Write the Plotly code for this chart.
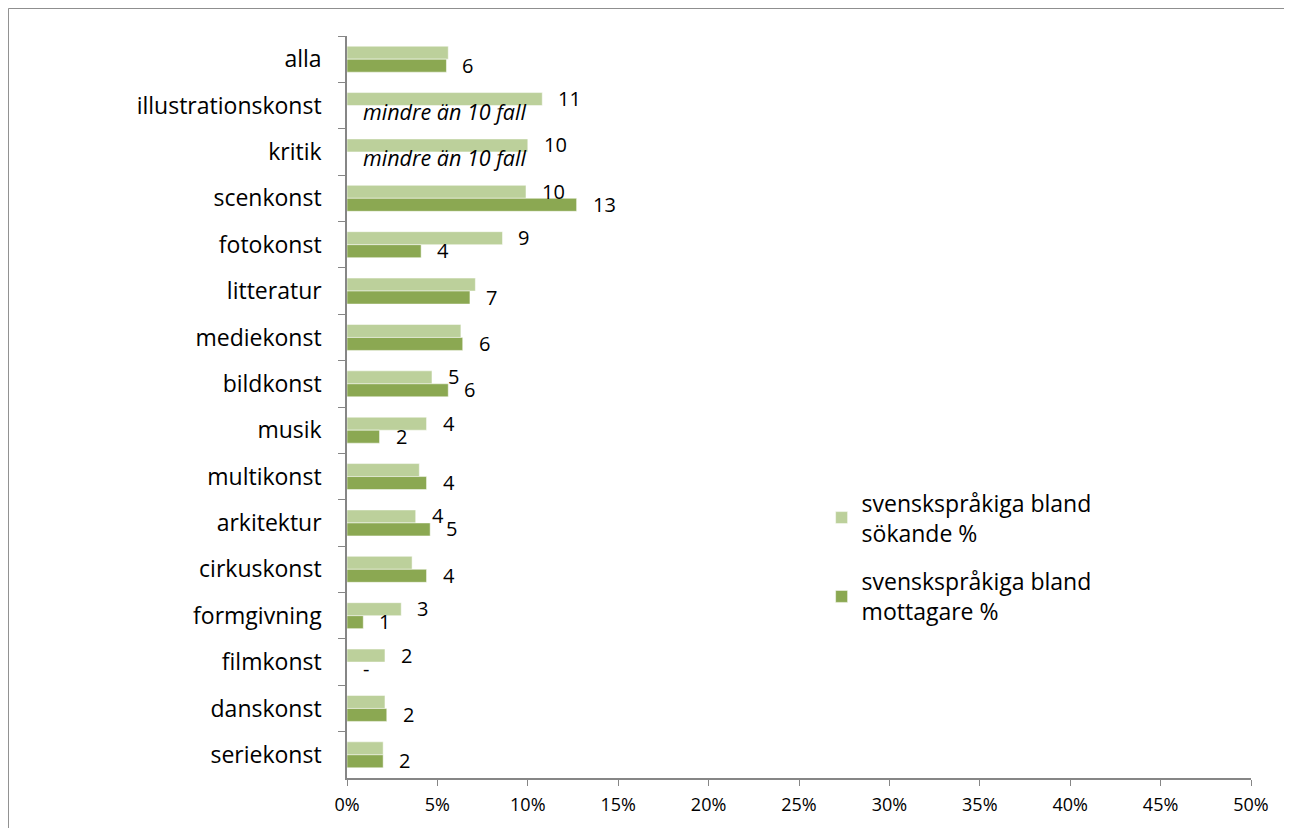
import plotly.graph_objects as go

categories = ["alla", "illustrationskonst", "kritik", "scenkonst", "fotokonst", "litteratur",
              "mediekonst", "bildkonst", "musik", "multikonst", "arkitektur", "cirkuskonst",
              "formgivning", "filmkonst", "danskonst", "seriekonst"]
sokande = [5.6, 10.8, 10.0, 9.9, 8.6, 7.1, 6.3, 4.7, 4.4, 4.0, 3.8, 3.6, 3.0, 2.1, 2.1, 2.0]
mottagare = [5.5, 0, 0, 12.7, 4.1, 6.8, 6.4, 5.6, 1.8, 4.4, 4.6, 4.4, 0.9, 0, 2.2, 2.0]
labels_sokande = ["", "11", "10", "10", "9", "", "", "5", "4", "", "4", "", "3", "2", "", ""]
labels_mottagare = ["6", "mindre än 10 fall", "mindre än 10 fall", "13", "4", "7", "6", "6",
                    "2", "4", "5", "4", "1", "-", "2", "2"]
xticks = [0, 5, 10, 15, 20, 25, 30, 35, 40, 45, 50]
xticklabels = [f"{v}%" for v in xticks]

name1 = "svenskspråkiga bland<br>sökande %"
name2 = "svenskspråkiga bland<br>mottagare %"
c_light = "#BCD09B"
c_dark = "#8BA852"
FONT = "Open Sans"

fig = go.Figure()
fig.add_trace(go.Bar(y=categories, x=sokande, orientation="h", name=name1, legendgroup="a",
                     marker=dict(color=c_light, line=dict(color="white", width=0.5))))
fig.add_trace(go.Bar(y=categories, x=mottagare, orientation="h", name=name2, legendgroup="b",
                     marker=dict(color=c_dark, line=dict(color="white", width=0.5))))

ann = []
for cat, v, lab in zip(categories, sokande, labels_sokande):
    if lab:
        ann.append(dict(x=v, y=cat, text=lab, xanchor="left", yanchor="middle",
                        xshift=14, yshift=7, showarrow=False,
                        font=dict(size=20, color="black", family=FONT)))
for cat, v, lab in zip(categories, mottagare, labels_mottagare):
    if lab:
        numeric = lab.isdigit() or lab == "-"
        txt = lab if numeric else f"<i>{lab}</i>"
        ann.append(dict(x=v, y=cat, text=txt, xanchor="left", yanchor="middle",
                        xshift=14, yshift=-6, showarrow=False,
                        font=dict(size=20 if numeric else 21.5, color="black", family=FONT)))

fig.update_layout(
    width=1292, height=828,
    margin=dict(l=339, r=49, t=28, b=58),
    paper_bgcolor="white", plot_bgcolor="white",
    barmode="group", bargap=0.44, bargroupgap=0,
    font=dict(family=FONT, color="black"),
    annotations=ann,
    legend=dict(x=0.525, y=0.40, xanchor="left", yanchor="top",
                font=dict(size=23, family=FONT), tracegroupgap=16,
                itemwidth=30, bgcolor="rgba(0,0,0,0)"),
    xaxis=dict(range=[0, 50], tickvals=xticks, ticktext=xticklabels,
               showgrid=False, zeroline=False, showline=True, linecolor="#868686",
               linewidth=1.5, ticks="outside", ticklen=6, tickcolor="#868686",
               tickfont=dict(size=18, family=FONT), ticklabelstandoff=4),
    yaxis=dict(categoryorder="array", categoryarray=categories, autorange="reversed",
               tickson="boundaries", showgrid=False, showline=True, linecolor="#868686",
               linewidth=1.5, ticks="outside", ticklen=7, tickcolor="#868686",
               tickfont=dict(size=23, family=FONT), ticklabelstandoff=19),
    shapes=[dict(type="rect", xref="paper", yref="paper", x0=-0.3745, x1=1.0387,
                 y0=-0.07, y1=1.0371, line=dict(color="#8C8C8C", width=1),
                 fillcolor="rgba(0,0,0,0)", layer="below")],
)

fig.write_html("out.html")
